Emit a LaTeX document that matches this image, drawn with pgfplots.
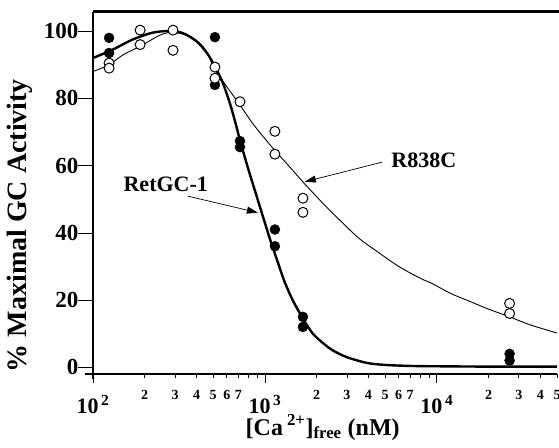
\documentclass[border=0pt]{standalone}
\usepackage{fontspec}
\setmainfont{Liberation Serif}
\usepackage{pgfplots}
\pgfplotsset{compat=1.18}
\usetikzlibrary{arrows.meta}
\begin{document}
\begin{tikzpicture}
\begin{axis}[
  scale only axis, width=464pt, height=362pt,
  xmode=log, log basis x=10,
  xmin=100, xmax=50000, ymin=-2, ymax=105.7,
  axis x line*=bottom, axis y line*=left,
  x axis line style={line width=2pt, shorten <=-8pt},
  y axis line style={line width=2pt, shorten <=-5pt},
  tick align=outside,
  major tick length=4pt, minor tick length=4pt,
  xtick={200,300,400,500,600,700,2000,3000,4000,5000,6000,7000,20000,30000,40000,50000},
  xticklabels={2,3,4,5,6,7,2,3,4,5,6,7,2,3,4,5},
  minor xtick={800,900,8000,9000},
  xtick style={line width=0.8pt, black},
  xticklabel style={font=\fontsize{14}{14}\selectfont\bfseries, anchor=base, yshift=-21pt},
  extra x ticks={100,1000,10000},
  extra x tick labels={10\textsuperscript{\,2},10\textsuperscript{\,3},10\textsuperscript{\,4}},
  extra x tick style={major tick length=9pt, xticklabel style={font=\fontsize{22}{22}\selectfont\bfseries, yshift=-9pt}},
  ytick={0,20,40,60,80,100},
  yticklabels={0,20,40,60,80,100},
  ytick style={draw=none},
  yticklabel style={font=\fontsize{23}{23}\selectfont\bfseries, xshift=-7pt},
  clip=false,
]
\coordinate (ll) at (rel axis cs:0,0);
\coordinate (ur) at (rel axis cs:1,1);
\draw[line width=3pt] (rel axis cs:0,1) -- (rel axis cs:1,1) -- ([xshift=3pt]rel axis cs:1,1);
\pgfplotsinvokeforeach{0,20,40,60,80,100}{\draw[line width=0.6pt] (axis cs:100,#1) -- ([xshift=-15pt]axis cs:100,#1);}

% RetGC-1 fit (thick)
\addplot[line width=2.4pt, smooth, black] coordinates {
(100,92) (130,94.5) (170,97.5) (220,99.5) (270,100) (330,99.5) (400,97)
(460,93.5) (512,89.5) (570,84.5) (630,78) (684,71.5) (716,67.5) (800,59)
(900,50.5) (985,44) (1080,37.5) (1175,32) (1300,25.5) (1450,20) (1664,14.5)
(1900,10) (2200,7) (2485,5) (3000,3) (3916,1.3) (5000,0.7) (7000,0.4)
(10000,0.3) (20000,0.2) (50000,0.2)};

% R838C fit (thin)
\addplot[line width=0.9pt, smooth, black] coordinates {
(100,88) (124,90) (150,93) (188,95.5) (250,99) (300,99.6) (380,98)
(450,94.5) (512,88.5) (600,83.5) (716,78) (850,72.5) (1000,68) (1143,64.5)
(1400,59.5) (1708,54.5) (2200,48.5) (2735,43.7) (3500,38.5) (4477,34.5)
(6000,30) (8000,26.5) (9480,24.8) (12000,22) (14900,20) (20000,17.3)
(26500,15) (35000,12.6) (49900,10.2)};

% RetGC-1 data (filled)
\addplot[only marks, mark=*, mark size=5pt, black] coordinates {
(124,98) (124,93.5) (512,98.2) (512,84) (716,67.3) (716,65.5)
(1143,41) (1143,36) (1664,15) (1664,12) (26500,4) (26500,2)};

% R838C data (open)
\addplot[only marks, mark=*, mark size=5pt, mark options={fill=white, draw=black, line width=1pt}] coordinates {
(124,90.5) (124,89) (188,100.3) (188,96) (292,100.3) (292,94.3) (512,89.3)
(512,86) (716,79) (1143,70.2) (1143,63.4) (1664,50.3) (1664,46.1)
(26500,19) (26500,16)};

\node[font=\fontsize{22}{22}\selectfont\bfseries] at (axis cs:265,54.3) {RetGC-1};
\draw[line width=0.7pt, -{Triangle[length=11pt,width=7pt]}] (axis cs:357,50.9) -- (axis cs:910,46);
\node[font=\fontsize{22}{22}\selectfont\bfseries] at (axis cs:8395,61.6) {R838C};
\draw[line width=0.7pt, -{Triangle[length=11pt,width=7pt]}] (axis cs:4786,61) -- (axis cs:1708,55.2);

\node[font=\fontsize{24}{24}\selectfont\bfseries, anchor=base] at ([yshift=-61pt]rel axis cs:0.495,0) {[Ca\,\textsuperscript{2+}]\textsubscript{free} (nM)};
\node[font=\fontsize{28}{28}\selectfont\bfseries, anchor=center, rotate=90] at ([xshift=-73pt]rel axis cs:0,0.41) {\% Maximal GC Activity};
\end{axis}
\pgfresetboundingbox
\path ([shift={(-93pt,-73pt)}]ll) rectangle ([shift={(2pt,12pt)}]ur);
\end{tikzpicture}
\end{document}
